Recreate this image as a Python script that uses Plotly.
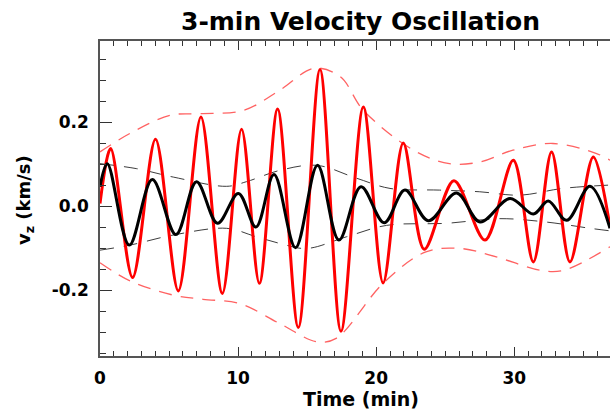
import plotly.graph_objects as go

# ---- data ----
red_t = [0, 0.77, 2.36, 4.02, 5.67, 7.31, 8.86, 10.25, 11.54, 12.86, 14.36, 15.93, 17.45,
         19.07, 20.5, 21.96, 23.48, 25.63, 27.88, 29.93, 31.38, 32.7, 34.03, 35.72, 36.93]
red_v = [0.007, 0.138, -0.169, 0.160, -0.201, 0.213, -0.207, 0.184, -0.183, 0.232, -0.288, 0.326, -0.297,
         0.237, -0.182, 0.151, -0.102, 0.061, -0.080, 0.110, -0.132, 0.130, -0.132, 0.118, -0.049]

blk_t = [0, 0.53, 2.12, 3.79, 5.5, 6.99, 8.51, 10.02, 11.29, 12.6, 14.16, 15.75, 17.3,
         18.9, 20.58, 22.08, 23.77, 25.82, 27.52, 29.69, 31.38, 32.46, 33.79, 35.48, 36.93]
blk_v = [0.047, 0.102, -0.092, 0.064, -0.067, 0.059, -0.040, 0.031, -0.049, 0.076, -0.098, 0.098, -0.080,
         0.047, -0.039, 0.039, -0.034, 0.032, -0.037, 0.019, -0.018, 0.013, -0.033, 0.048, -0.052]

red_up_t = [0, 2.17, 5.07, 7.24, 10.4, 13.03, 15.5, 17.4, 19.07, 22.7, 25.3, 27.5, 29.9, 32.8, 35.96, 36.93]
red_up_v = [0.13, 0.174, 0.217, 0.221, 0.229, 0.277, 0.329, 0.309, 0.229, 0.134, 0.102, 0.106, 0.134, 0.150, 0.126, 0.110]

red_lo_t = [0, 2.17, 5.3, 7.46, 10.1, 13.03, 15.7, 17.1, 20.5, 23.6, 26.1, 28.7, 31.9, 33.55, 36.93]
red_lo_v = [-0.134, -0.177, -0.211, -0.221, -0.231, -0.279, -0.322, -0.314, -0.183, -0.108, -0.100, -0.120, -0.152, -0.152, -0.096]

blk_up_t = [0, 2.66, 5.31, 9.17, 10.6, 13.03, 15.7, 18.6, 21, 24.6, 27.5, 30.4, 33.5, 36.93]
blk_up_v = [0.102, 0.090, 0.070, 0.048, 0.059, 0.086, 0.098, 0.067, 0.043, 0.039, 0.035, 0.027, 0.043, 0.051]

blk_lo_t = [0, 2.17, 5.3, 9.17, 11.3, 13.03, 14.96, 17.86, 20.75, 25.1, 28.96, 32.3, 35.5, 36.93]
blk_lo_v = [-0.104, -0.092, -0.068, -0.052, -0.072, -0.088, -0.100, -0.072, -0.045, -0.040, -0.029, -0.037, -0.052, -0.058]

x_ticks = [0, 10, 20, 30]
x_tick_labels = ["0", "10", "20", "30"]
y_ticks = [-0.2, 0.0, 0.2]
y_tick_labels = ["-0.2", "0.0", "0.2"]

FONT = "DejaVu Sans"

fig = go.Figure()

def env(t, v, color, width, dash):
    fig.add_trace(go.Scatter(x=t, y=v, mode="lines",
                             line=dict(color=color, width=width, dash=dash, shape="spline", smoothing=1.0),
                             hoverinfo="skip", showlegend=False))

env(red_up_t, red_up_v, "rgba(255,70,70,0.85)", 1.3, "13px,9px")
env(red_lo_t, red_lo_v, "rgba(255,70,70,0.85)", 1.3, "13px,9px")
env(blk_up_t, blk_up_v, "rgba(40,40,40,0.9)", 1.0, "14px,10px")
env(blk_lo_t, blk_lo_v, "rgba(40,40,40,0.9)", 1.0, "14px,10px")

fig.add_trace(go.Scatter(x=red_t, y=red_v, mode="lines",
                         line=dict(color="#ff0000", width=3, shape="spline", smoothing=0.9),
                         showlegend=False))
fig.add_trace(go.Scatter(x=blk_t, y=blk_v, mode="lines",
                         line=dict(color="#000000", width=3, shape="spline", smoothing=1.0),
                         showlegend=False))

axis_col = "#555555"
fig.update_xaxes(range=[0, 36.93], showline=True, linecolor=axis_col, linewidth=1.5,
                 mirror="ticks", ticks="inside", ticklen=9, tickwidth=1.3, tickcolor="#333",
                 tickvals=x_ticks, ticktext=x_tick_labels, ticklabelstandoff=6,
                 tickfont=dict(family=FONT, size=17, color="black", weight="bold"),
                 minor=dict(dtick=1, tick0=0, ticks="inside", ticklen=5, tickwidth=1, tickcolor="#333"),
                 showgrid=False, zeroline=False)
fig.update_yaxes(range=[-0.356, 0.394], showline=True, linecolor=axis_col, linewidth=1.5,
                 mirror=False, ticks="inside", ticklen=12, tickwidth=1.3, tickcolor="#333",
                 tickvals=y_ticks, ticktext=y_tick_labels, ticklabelstandoff=6,
                 tickfont=dict(family=FONT, size=17, color="black", weight="bold"),
                 minor=dict(dtick=0.05, tick0=0, ticks="inside", ticklen=6, tickwidth=1, tickcolor="#333"),
                 showgrid=False, zeroline=False)

fig.update_layout(
    width=610, height=411,
    margin=dict(l=100, r=0, t=41, b=55),
    paper_bgcolor="white", plot_bgcolor="white",
    showlegend=False,
    annotations=[
        dict(text="3-min Velocity Oscillation", xref="paper", yref="paper",
             x=(360 - 100) / 510, y=1.0, yshift=20, xanchor="center", yanchor="middle",
             showarrow=False, font=dict(family=FONT, size=25, color="black", weight="bold")),
        dict(text="Time (min)", xref="paper", yref="paper",
             x=(361 - 100) / 510, y=0, yshift=-43, xanchor="center", yanchor="middle",
             showarrow=False, font=dict(family=FONT, size=19, color="black", weight="bold")),
        dict(text="v<sub>z</sub> (km/s)", xref="paper", yref="paper",
             x=0, xshift=-75, y=(356 - 200) / 315, xanchor="center", yanchor="middle",
             textangle=-90, showarrow=False,
             font=dict(family=FONT, size=18, color="black", weight="bold")),
    ],
)

fig.write_html("out.html", config={"displayModeBar": False})
